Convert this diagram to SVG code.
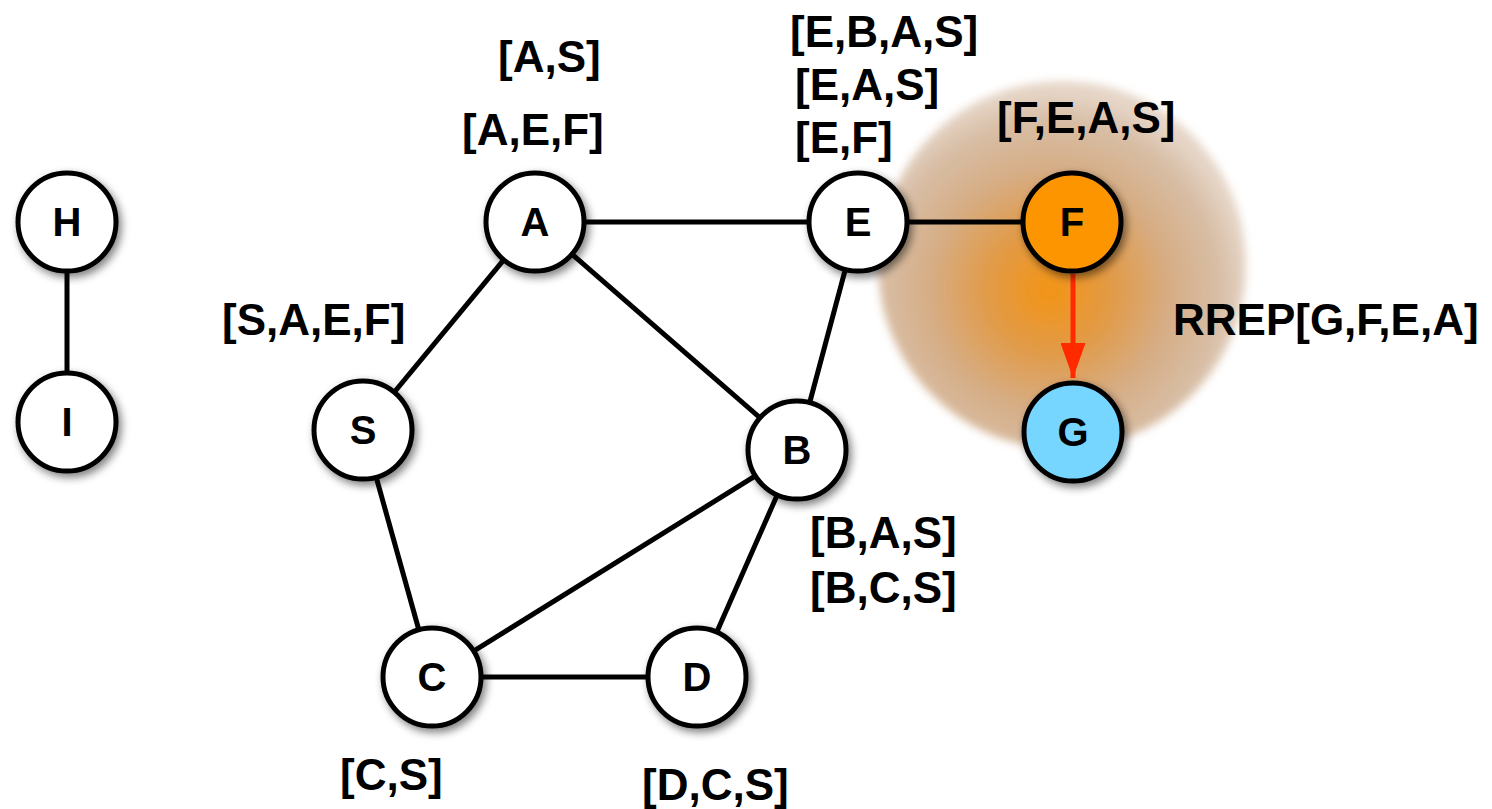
<svg xmlns="http://www.w3.org/2000/svg" width="1492" height="809" viewBox="0 0 1492 809">
<style>
.n{stroke:#000;stroke-width:5;fill:#fff;filter:url(#sh)}
.nt{font-family:"Liberation Sans",Arial,sans-serif;font-weight:bold;font-size:40px;text-anchor:middle;fill:#000}
.lb{font-family:"Liberation Sans",Arial,sans-serif;font-weight:bold;font-size:44px;fill:#000}
.e{stroke:#000;stroke-width:5;fill:none}
</style>
<defs>
<filter id="sh" x="-30%" y="-30%" width="170%" height="170%">
<feGaussianBlur in="SourceAlpha" stdDeviation="4"/>
<feOffset dx="3" dy="4" result="b"/>
<feComponentTransfer><feFuncA type="linear" slope="0.5"/></feComponentTransfer>
<feMerge><feMergeNode/><feMergeNode in="SourceGraphic"/></feMerge>
</filter>
<radialGradient id="glow" cx="1050" cy="290" r="200" gradientUnits="userSpaceOnUse">
<stop offset="0" stop-color="#f39416"/>
<stop offset="0.3" stop-color="#e29a45"/>
<stop offset="0.6" stop-color="#d6ad85"/>
<stop offset="0.85" stop-color="#d8bea6"/>
<stop offset="1" stop-color="#e6d6c8"/>
</radialGradient>
<filter id="bl" x="-20%" y="-20%" width="140%" height="140%"><feGaussianBlur stdDeviation="4"/></filter>
<marker id="ar" viewBox="0 0 14 10" refX="14" refY="5" markerWidth="7" markerHeight="5" orient="auto" markerUnits="strokeWidth">
<path d="M0,0 L14,5 L0,10 Z" fill="#ff2a00"/>
</marker>
</defs>
<rect width="1492" height="809" fill="#fff"/>
<circle cx="1062" cy="265" r="184" fill="url(#glow)" filter="url(#bl)"/>
<g id="connectors">
<line class="e" x1="67" y1="222" x2="67" y2="422"/>
<line class="e" x1="535" y1="222" x2="858" y2="222"/>
<line class="e" x1="535" y1="222" x2="363" y2="430"/>
<line class="e" x1="535" y1="222" x2="797" y2="450"/>
<line class="e" x1="858" y1="222" x2="797" y2="450"/>
<line class="e" x1="858" y1="222" x2="1072" y2="222"/>
<line class="e" x1="363" y1="430" x2="432" y2="677"/>
<line class="e" x1="432" y1="677" x2="797" y2="450"/>
<line class="e" x1="432" y1="677" x2="697" y2="677"/>
<line class="e" x1="797" y1="450" x2="697" y2="677"/>
<line x1="1073" y1="274" x2="1073" y2="378" stroke="#ff2a00" stroke-width="5" marker-end="url(#ar)"/>
</g>
<g id="H"><circle class="n" cx="67" cy="222" r="49"/><text class="nt" x="67" y="236">H</text></g>
<g id="I"><circle class="n" cx="67" cy="422" r="49"/><text class="nt" x="67" y="436">I</text></g>
<g id="A"><circle class="n" cx="535" cy="222" r="49"/><text class="nt" x="535" y="236">A</text></g>
<g id="E"><circle class="n" cx="858" cy="222" r="49"/><text class="nt" x="858" y="236">E</text></g>
<g id="F"><circle class="n" cx="1072" cy="222" r="49" style="fill:#fd9500"/><text class="nt" x="1072" y="236">F</text></g>
<g id="S"><circle class="n" cx="363" cy="430" r="49"/><text class="nt" x="363" y="444">S</text></g>
<g id="B"><circle class="n" cx="797" cy="450" r="49"/><text class="nt" x="797" y="464">B</text></g>
<g id="C"><circle class="n" cx="432" cy="677" r="49"/><text class="nt" x="432" y="691">C</text></g>
<g id="D"><circle class="n" cx="697" cy="677" r="49"/><text class="nt" x="697" y="691">D</text></g>
<g id="G"><circle class="n" cx="1073" cy="432" r="49" style="fill:#76d6ff"/><text class="nt" x="1073" y="446">G</text></g>
<g id="labels">
<text class="lb" x="498" y="72">[A,S]</text>
<text class="lb" x="462" y="145">[A,E,F]</text>
<text class="lb" x="790" y="47">[E,B,A,S]</text>
<text class="lb" x="795" y="100">[E,A,S]</text>
<text class="lb" x="795" y="153">[E,F]</text>
<text class="lb" x="997" y="133">[F,E,A,S]</text>
<text class="lb" x="222" y="335">[S,A,E,F]</text>
<text class="lb" x="1173" y="335">RREP[G,F,E,A]</text>
<text class="lb" x="810" y="548">[B,A,S]</text>
<text class="lb" x="810" y="603">[B,C,S]</text>
<text class="lb" x="340" y="790">[C,S]</text>
<text class="lb" x="642" y="800">[D,C,S]</text>
</g>
</svg>
